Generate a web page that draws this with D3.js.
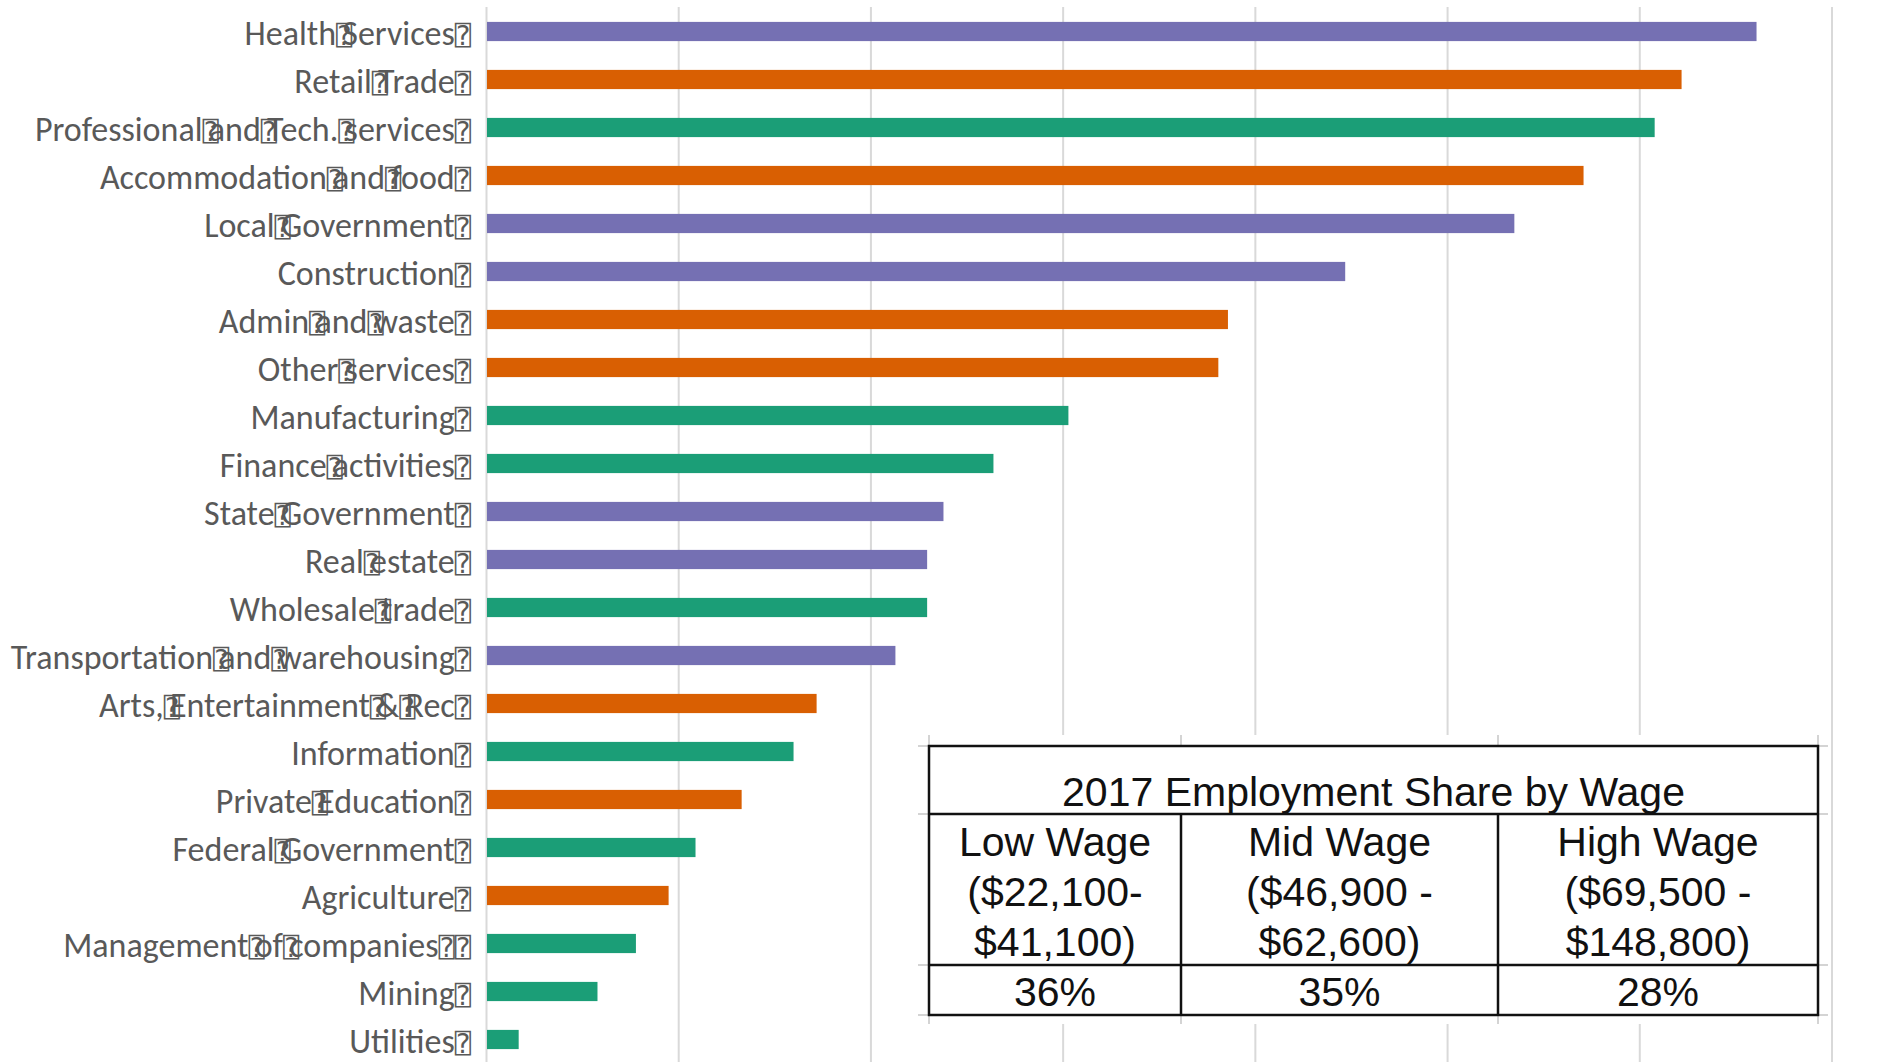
<!DOCTYPE html>
<html>
<head>
<meta charset="utf-8">
<script src="https://cdn.jsdelivr.net/npm/d3@7"></script>
<style>
  body { margin: 0; background: #fff; }
  .label { font-family: Carlito, Lato, "Open Sans", sans-serif; font-size: 34px; fill: #595959; }
  .box { font-family: "DejaVu Sans Mono", "DejaVu Sans", monospace; font-size: 27px; }
  .grid line { stroke: #d9d9d9; stroke-width: 2; }
  .tbl text { font-family: "Liberation Sans", Arial, sans-serif; font-size: 41px; fill: #111; }
</style>
</head>
<body>
<script>
// industries, largest first
const categories = [
    "Health Services", "Retail Trade", "Professional and Tech. services", "Accommodation and food",
    "Local Government", "Construction", "Admin and waste", "Other services", "Manufacturing",
    "Finance activities", "State Government", "Real estate", "Wholesale trade",
    "Transportation and warehousing", "Arts, Entertainment & Rec", "Information", "Private Education",
    "Federal Government", "Agriculture", "Management of companies", "Mining", "Utilities"
];
// bar lengths (one gridline = 10)
const values = [66.1, 62.2, 60.8, 57.1, 53.5, 44.7, 38.6, 38.1, 30.3, 26.4, 23.8,
    22.95, 22.95, 21.3, 17.2, 16.0, 13.3, 10.9, 9.5, 7.8, 5.8, 1.7];
// wage group of each industry
const wageGroup = ["mid", "low", "high", "low", "mid", "mid", "low", "low", "high", "high", "mid",
    "mid", "high", "mid", "low", "high", "low", "high", "low", "high", "high", "high"];
const gridTicks = [0, 10, 20, 30, 40, 50, 60, 70];

// inset table
const tableTitle = "2017 Employment Share by Wage";
const wageHeaders = ["Low Wage", "Mid Wage", "High Wage"];
const wageRanges = [["($22,100-", "$41,100)"], ["($46,900 -", "$62,600)"], ["($69,500 -", "$148,800)"]];
const wageShares = ["36%", "35%", "28%"];

const width = 1899,
    height = 1062,
    plotTop = 7.5,
    axisX = 486,
    svg = d3.select("body").append("svg")
        .attr("width", width)
        .attr("height", height);

const x = d3.scaleLinear()
    .domain([0, 70])
    .range([axisX, 1831.5]);

const y = d3.scaleBand()
    .domain(categories)
    .range([plotTop, plotTop + 48 * categories.length])
    .paddingInner(0.6)
    .paddingOuter(0.3);

const color = d3.scaleOrdinal()
    .domain(["high", "low", "mid"])
    .range(d3.schemeDark2);

// gridlines (the one at 0 is the axis line)
svg.append("g")
    .attr("class", "grid")
    .attr("transform", "translate(0," + height + ")")
    .call(d3.axisBottom(x).tickValues(gridTicks).tickSize(-(height - 7)).tickFormat(""))
    .call(g => g.select(".domain").remove());

svg.append("g")
    .selectAll("rect")
    .data(categories)
    .enter()
    .append("rect")
    .attr("x", x(0) + 1)
    .attr("y", d => y(d))
    .attr("height", y.bandwidth())
    .attr("width", (d, i) => x(values[i]) - x(0) - 1)
    .attr("fill", (d, i) => color(wageGroup[i]));

// category labels; the source shows a missing-glyph box where each space was
const labels = svg.append("g")
    .selectAll("text")
    .data(categories)
    .enter()
    .append("text")
    .attr("class", "label")
    .attr("text-anchor", "end")
    .attr("x", 471)
    .attr("y", d => y(d) + y.bandwidth() / 2 + 13);

labels.each(function(d) {
    const t = d3.select(this);
    const words = d.split(" ");
    words.forEach((w, i) => {
        t.append("tspan").text(w);
        t.append("tspan").attr("class", "box").attr("letter-spacing", i < words.length - 1 ? -10 : 0).text("\u2370");
    });
    if (d === "Management of companies") t.append("tspan").attr("class", "box").text("\u2370");
});

// table inset
const colX = [929, 1181, 1498, 1818],
    rowY = [746, 814, 965, 1015];

const tbl = svg.append("g").attr("class", "tbl");

tbl.append("rect")
    .attr("x", 918).attr("y", 735)
    .attr("width", 1828 - 918).attr("height", 1024 - 735)
    .attr("fill", "#fff");

// spreadsheet cell stubs around the table
colX.forEach(cx => {
    tbl.append("line").attr("x1", cx).attr("x2", cx).attr("y1", 735).attr("y2", 1024)
        .attr("stroke", "#d4d4d4").attr("stroke-width", 2);
});
rowY.forEach(ry => {
    tbl.append("line").attr("x1", 918).attr("x2", 1828).attr("y1", ry).attr("y2", ry)
        .attr("stroke", "#d4d4d4").attr("stroke-width", 2);
});

tbl.append("rect")
    .attr("x", colX[0]).attr("y", rowY[0])
    .attr("width", colX[3] - colX[0]).attr("height", rowY[3] - rowY[0])
    .attr("fill", "#fff").attr("stroke", "#111").attr("stroke-width", 2.5);

[rowY[1], rowY[2]].forEach(ry => {
    tbl.append("line").attr("x1", colX[0]).attr("x2", colX[3]).attr("y1", ry).attr("y2", ry)
        .attr("stroke", "#111").attr("stroke-width", 2.5);
});
[colX[1], colX[2]].forEach(cx => {
    tbl.append("line").attr("x1", cx).attr("x2", cx).attr("y1", rowY[1]).attr("y2", rowY[3])
        .attr("stroke", "#111").attr("stroke-width", 2.5);
});

tbl.append("text")
    .attr("x", (colX[0] + colX[3]) / 2)
    .attr("y", 806)
    .attr("text-anchor", "middle")
    .text(tableTitle);

wageHeaders.forEach((h, i) => {
    const cx = (colX[i] + colX[i + 1]) / 2;
    [h, wageRanges[i][0], wageRanges[i][1]].forEach((line, j) => {
        tbl.append("text")
            .attr("x", cx)
            .attr("y", 856 + j * 50)
            .attr("text-anchor", "middle")
            .text(line);
    });
    tbl.append("text")
        .attr("x", cx)
        .attr("y", 1006)
        .attr("text-anchor", "middle")
        .text(wageShares[i]);
});
</script>
</body>
</html>
